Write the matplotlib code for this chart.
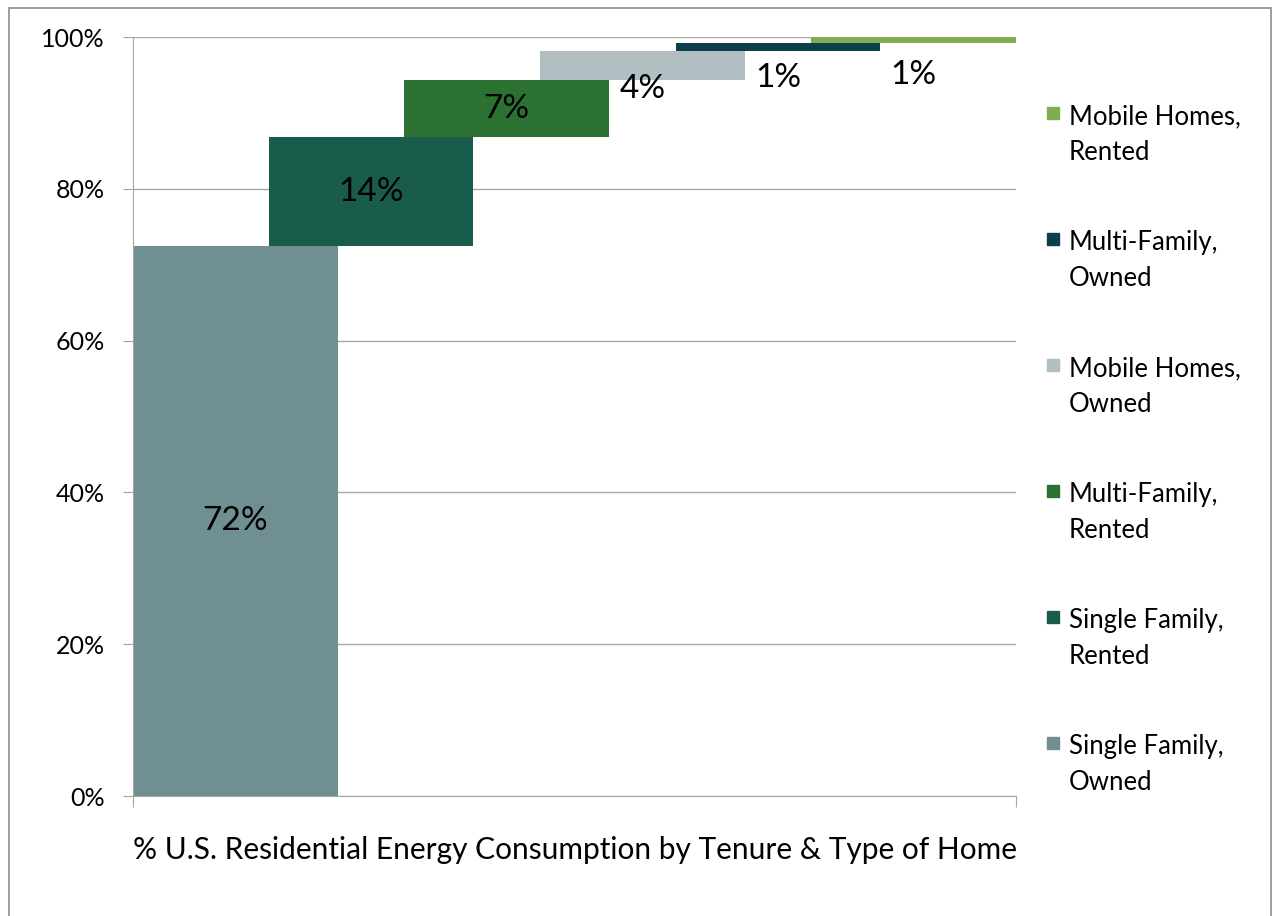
import numpy as np
from matplotlib import pyplot as plt
from matplotlib.patches import Rectangle

# share of U.S. residential energy consumption (%), in drawing order
categories = ['Single Family,\nOwned', 'Single Family,\nRented', 'Multi-Family,\nRented',
              'Mobile Homes,\nOwned', 'Multi-Family,\nOwned', 'Mobile Homes,\nRented']
values = [72.4, 14.4, 7.5, 3.8, 1.1, 0.8]
value_labels = ['72%', '14%', '7%', '4%', '1%', '1%']
y_ticks = [0, 20, 40, 60, 80, 100]

colors = ['#6f8f93', '#1a5c4c', '#2b7131', '#b1bec2', '#0c3f4b', '#80ad4f']

plt.rcParams['font.family'] = ['Lato', 'DejaVu Sans']

fig = plt.figure(figsize=(12.73, 9.16), dpi=100)
ax = fig.add_axes([0.1045, 0.1310, 0.6936, 0.8286])

''' ----- bars (floating, stacked on the running total) ----- '''
width = 1.51
bottoms = np.concatenate([[0], np.cumsum(values)[:-1]])
xs = np.arange(len(values))
ax.bar(xs, values, width=width, bottom=bottoms, align='edge', color=colors, zorder=2)

# value labels: centred on each bar, small ones pushed down below the bars
label_y = [None, None, None, 93.2, 94.6, 95.0]
for i, txt in enumerate(value_labels):
    y = bottoms[i] + values[i] / 2 if label_y[i] is None else label_y[i]
    ax.text(xs[i] + width / 2, y, txt, ha='center', va='center', fontsize=24, color='black', zorder=3)

''' ----- axes styling ----- '''
xmax = xs[-1] + width
ax.set_xlim(0, xmax)
ax.set_ylim(0, 100)
ax.set_yticks(y_ticks)
ax.set_yticklabels([f'{t}%' for t in y_ticks])
ax.set_xticks([0, xmax])
ax.set_xticklabels(['', ''])
ax.yaxis.grid(True, color='#a6a6a6', lw=1, zorder=0)
ax.set_axisbelow(True)
for side in ['top', 'right']:
    ax.spines[side].set_visible(False)
for side in ['left', 'bottom']:
    ax.spines[side].set_color('#a6a6a6')
ax.tick_params(axis='y', length=7.5, color='#a6a6a6', labelsize=18, pad=13)
ax.tick_params(axis='x', length=8, color='#a6a6a6')

ax.set_xlabel('% U.S. Residential Energy Consumption by Tenure & Type of Home', fontsize=21.5)
ax.xaxis.label.set_va('center')
ax.xaxis.set_label_coords(0.5, -0.071)

''' ----- legend (reversed, marker next to first line) ----- '''
W, H = 1273, 916
for k, i in enumerate(reversed(range(len(categories)))):
    yc = 113 + k * 126
    fig.patches.append(Rectangle((1047 / W, 1 - (yc + 6) / H), 12 / W, 12 / H,
                                 transform=fig.transFigure, color=colors[i]))
    fig.text(1069 / W, 1 - (yc - 9) / H, categories[i], ha='left', va='top',
             fontsize=18.5, linespacing=1.55)

# outer chart border
fig.patches.append(Rectangle((8.5 / W, -0.01), (1271 - 8.5) / W, 1.01 - 7.5 / H,
                             transform=fig.transFigure, fill=False, edgecolor='#8c8c8c', lw=1.2))

plt.savefig('out.png', dpi=100)
plt.close()
